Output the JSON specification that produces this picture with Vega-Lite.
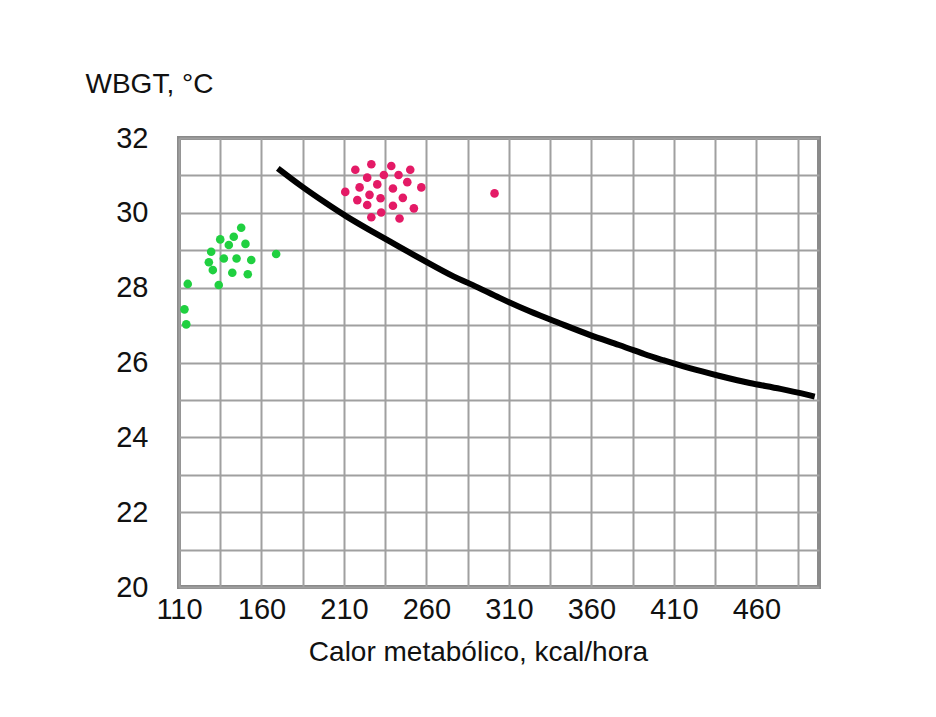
{
  "$schema": "https://vega.github.io/schema/vega-lite/v6.json",
  "width": 640,
  "height": 449,
  "autosize": {"type": "none"},
  "padding": {"left": 179, "top": 138, "right": 117, "bottom": 130},
  "background": "white",
  "config": {
    "font": "Liberation Sans",
    "view": {"stroke": "#8a8a8a", "strokeWidth": 4, "fill": "white"},
    "axis": {
      "grid": true,
      "gridColor": "#a0a0a0",
      "gridWidth": 2,
      "gridOpacity": 1,
      "domain": false,
      "ticks": false,
      "labelFont": "Liberation Sans",
      "labelFontSize": 29,
      "labelColor": "#111111",
      "titleFont": "Liberation Sans",
      "titleFontSize": 28,
      "titleFontWeight": "normal",
      "titleColor": "#111111"
    }
  },
  "datasets": {
    "puntos": [
      {"metabolico": 147.7, "wbgt": 29.60, "grupo": "grupo 1"},
      {"metabolico": 143.2, "wbgt": 29.36, "grupo": "grupo 1"},
      {"metabolico": 135.0, "wbgt": 29.29, "grupo": "grupo 1"},
      {"metabolico": 140.2, "wbgt": 29.14, "grupo": "grupo 1"},
      {"metabolico": 150.3, "wbgt": 29.17, "grupo": "grupo 1"},
      {"metabolico": 129.5, "wbgt": 28.96, "grupo": "grupo 1"},
      {"metabolico": 128.1, "wbgt": 28.68, "grupo": "grupo 1"},
      {"metabolico": 137.2, "wbgt": 28.78, "grupo": "grupo 1"},
      {"metabolico": 144.9, "wbgt": 28.78, "grupo": "grupo 1"},
      {"metabolico": 153.8, "wbgt": 28.74, "grupo": "grupo 1"},
      {"metabolico": 130.5, "wbgt": 28.47, "grupo": "grupo 1"},
      {"metabolico": 142.3, "wbgt": 28.40, "grupo": "grupo 1"},
      {"metabolico": 151.7, "wbgt": 28.36, "grupo": "grupo 1"},
      {"metabolico": 115.3, "wbgt": 28.10, "grupo": "grupo 1"},
      {"metabolico": 134.1, "wbgt": 28.07, "grupo": "grupo 1"},
      {"metabolico": 113.3, "wbgt": 27.42, "grupo": "grupo 1"},
      {"metabolico": 114.4, "wbgt": 27.02, "grupo": "grupo 1"},
      {"metabolico": 168.9, "wbgt": 28.90, "grupo": "grupo 1"},
      {"metabolico": 216.9, "wbgt": 31.15, "grupo": "grupo 2"},
      {"metabolico": 226.6, "wbgt": 31.30, "grupo": "grupo 2"},
      {"metabolico": 238.7, "wbgt": 31.25, "grupo": "grupo 2"},
      {"metabolico": 250.2, "wbgt": 31.15, "grupo": "grupo 2"},
      {"metabolico": 224.1, "wbgt": 30.94, "grupo": "grupo 2"},
      {"metabolico": 234.2, "wbgt": 31.01, "grupo": "grupo 2"},
      {"metabolico": 243.1, "wbgt": 31.01, "grupo": "grupo 2"},
      {"metabolico": 248.4, "wbgt": 30.82, "grupo": "grupo 2"},
      {"metabolico": 230.2, "wbgt": 30.76, "grupo": "grupo 2"},
      {"metabolico": 239.7, "wbgt": 30.65, "grupo": "grupo 2"},
      {"metabolico": 256.9, "wbgt": 30.68, "grupo": "grupo 2"},
      {"metabolico": 210.8, "wbgt": 30.56, "grupo": "grupo 2"},
      {"metabolico": 219.5, "wbgt": 30.68, "grupo": "grupo 2"},
      {"metabolico": 225.5, "wbgt": 30.48, "grupo": "grupo 2"},
      {"metabolico": 232.2, "wbgt": 30.39, "grupo": "grupo 2"},
      {"metabolico": 245.7, "wbgt": 30.40, "grupo": "grupo 2"},
      {"metabolico": 218.1, "wbgt": 30.34, "grupo": "grupo 2"},
      {"metabolico": 224.1, "wbgt": 30.21, "grupo": "grupo 2"},
      {"metabolico": 239.7, "wbgt": 30.19, "grupo": "grupo 2"},
      {"metabolico": 252.4, "wbgt": 30.12, "grupo": "grupo 2"},
      {"metabolico": 232.6, "wbgt": 30.01, "grupo": "grupo 2"},
      {"metabolico": 226.6, "wbgt": 29.88, "grupo": "grupo 2"},
      {"metabolico": 243.7, "wbgt": 29.85, "grupo": "grupo 2"},
      {"metabolico": 301.3, "wbgt": 30.52, "grupo": "grupo 2"}
    ],
    "limite": [
      {"metabolico": 169.9, "wbgt": 31.19},
      {"metabolico": 183.1, "wbgt": 30.74},
      {"metabolico": 199.3, "wbgt": 30.25},
      {"metabolico": 211.4, "wbgt": 29.90},
      {"metabolico": 225.5, "wbgt": 29.54},
      {"metabolico": 243.7, "wbgt": 29.09},
      {"metabolico": 259.9, "wbgt": 28.69},
      {"metabolico": 278.1, "wbgt": 28.25},
      {"metabolico": 286.2, "wbgt": 28.12},
      {"metabolico": 304.4, "wbgt": 27.72},
      {"metabolico": 322.6, "wbgt": 27.36},
      {"metabolico": 340.8, "wbgt": 27.05},
      {"metabolico": 358.9, "wbgt": 26.73},
      {"metabolico": 377.1, "wbgt": 26.47},
      {"metabolico": 393.3, "wbgt": 26.20},
      {"metabolico": 401.4, "wbgt": 26.09},
      {"metabolico": 419.6, "wbgt": 25.84},
      {"metabolico": 437.8, "wbgt": 25.64},
      {"metabolico": 456.0, "wbgt": 25.44},
      {"metabolico": 474.2, "wbgt": 25.31},
      {"metabolico": 495.4, "wbgt": 25.09}
    ]
  },
  "encoding": {
    "x": {
      "field": "metabolico",
      "type": "quantitative",
      "scale": {"domain": [110, 498], "nice": false, "zero": false},
      "axis": {
        "values": [110, 135, 160, 185, 210, 235, 260, 285, 310, 335, 360, 385, 410, 435, 460, 485],
        "labelExpr": "(datum.value - 110) % 50 == 0 ? datum.label : ''",
        "labelPadding": 8,
        "labelFlush": false,
        "title": "Calor metabólico, kcal/hora",
        "titleX": 299,
        "titleY": 51,
        "titleBaseline": "top",
        "titleAnchor": "start",
        "titleAlign": "center"
      }
    },
    "y": {
      "field": "wbgt",
      "type": "quantitative",
      "scale": {"domain": [20, 32], "nice": false, "zero": false},
      "axis": {
        "values": [20, 21, 22, 23, 24, 25, 26, 27, 28, 29, 30, 31, 32],
        "labelExpr": "datum.value % 2 == 0 ? datum.label : ''",
        "labelPadding": 31,
        "labelFlush": false,
        "title": "WBGT, °C",
        "titleAngle": 0,
        "titleAlign": "left",
        "titleBaseline": "alphabetic",
        "titleX": -94,
        "titleY": -46
      }
    }
  },
  "layer": [
    {
      "data": {"name": "puntos"},
      "mark": {"type": "circle", "size": 74, "opacity": 1},
      "encoding": {
        "color": {
          "field": "grupo",
          "type": "nominal",
          "scale": {"domain": ["grupo 1", "grupo 2"], "range": ["#20d040", "#e41a66"]},
          "legend": null
        }
      }
    },
    {
      "data": {"name": "limite"},
      "mark": {"type": "line", "color": "black", "strokeWidth": 6, "interpolate": "basis"},
      "encoding": {}
    }
  ]
}
